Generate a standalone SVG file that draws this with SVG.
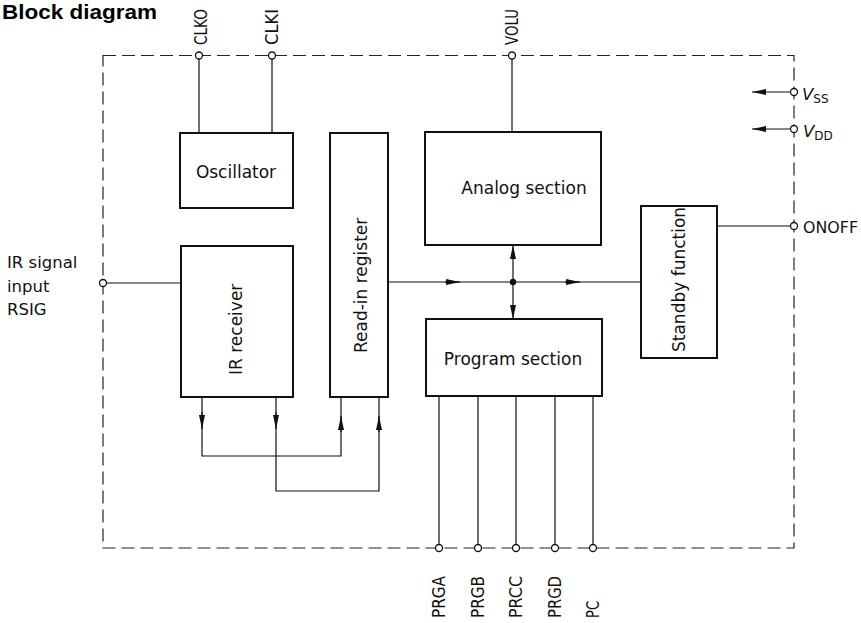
<svg xmlns="http://www.w3.org/2000/svg" width="861" height="623" viewBox="0 0 861 623">
<style>
.box{fill:#fff;stroke:#111;stroke-width:2}
.ln{fill:none;stroke:#111;stroke-width:1.2}
.frame{fill:none;stroke:#222;stroke-width:1.2;stroke-dasharray:13 6}
.pin{fill:#fff;stroke:#111;stroke-width:1.3}
.t{font-family:"DejaVu Sans",sans-serif;font-size:17px;fill:#111}
.p{font-family:"DejaVu Sans",sans-serif;font-size:16.5px;fill:#111}
.r{font-family:"DejaVu Sans",sans-serif;font-size:17px;fill:#111}
.title{font-family:"Liberation Sans",Arial,sans-serif;font-weight:bold;font-size:20px;fill:#000}
</style>
<defs>
<marker id="ah" markerUnits="userSpaceOnUse" markerWidth="15" markerHeight="7" refX="14" refY="3.5" orient="auto">
<path d="M0,0.5 L14,3.5 L0,6.5 z" fill="#111"/>
</marker>
</defs>
<rect width="861" height="623" fill="#fff"/>
<text class="title" x="2" y="19" textLength="155" lengthAdjust="spacingAndGlyphs">Block diagram</text>
<rect class="frame" x="103" y="55.5" width="691" height="492.5"/>

<g id="connectors">
<path class="ln" d="M199,55.5 V133 M272,55.5 V133 M512,55.5 V132"/>
<path class="ln" d="M106.5,283 H181"/>
<path class="ln" d="M388,282 H641"/>
<path class="ln" d="M445,282 H460" marker-end="url(#ah)"/>
<path class="ln" d="M565,282 H580" marker-end="url(#ah)"/>
<path class="ln" d="M513,282 V245" marker-end="url(#ah)"/>
<path class="ln" d="M513,282 V319" marker-end="url(#ah)"/>
<circle cx="513" cy="282" r="3.2" fill="#111"/>
<path class="ln" d="M717,226 H790.5"/>
<path class="ln" d="M202,397 V456 H341 V397"/>
<path class="ln" d="M276,397 V491 H379 V397"/>
<path class="ln" d="M202,412 V429" marker-end="url(#ah)"/>
<path class="ln" d="M276,412 V429" marker-end="url(#ah)"/>
<path class="ln" d="M341,432 V416" marker-end="url(#ah)"/>
<path class="ln" d="M379,432 V416" marker-end="url(#ah)"/>
<path class="ln" d="M790.5,92 H752" marker-end="url(#ah)"/>
<path class="ln" d="M790.5,129 H752" marker-end="url(#ah)"/>
<path class="ln" d="M439,396 V548 M478,396 V548 M516,396 V548 M555,396 V548 M593,396 V548"/>
</g>

<g id="oscillator">
<rect class="box" x="180" y="133" width="113" height="75"/>
<text class="t" x="236" y="178" text-anchor="middle">Oscillator</text>
</g>
<g id="ir-receiver">
<rect class="box" x="181" y="246" width="112" height="151"/>
<text class="t" transform="translate(242,375) rotate(-90)">IR receiver</text>
</g>
<g id="read-in-register">
<rect class="box" x="330" y="133" width="58" height="264"/>
<text class="t" transform="translate(367,353) rotate(-90)">Read-in register</text>
</g>
<g id="analog-section">
<rect class="box" x="425" y="132" width="176" height="113"/>
<text class="t" x="524" y="194" text-anchor="middle">Analog section</text>
</g>
<g id="program-section">
<rect class="box" x="426" y="319" width="176" height="77"/>
<text class="t" x="513" y="365" text-anchor="middle">Program section</text>
</g>
<g id="standby-function">
<rect class="box" x="641" y="206" width="76" height="152"/>
<text class="t" transform="translate(685,352) rotate(-90)">Standby function</text>
</g>

<g id="pin-clko">
<circle class="pin" cx="199" cy="55.5" r="3.5"/>
<text class="r" transform="translate(207,45) rotate(-90)" textLength="36" lengthAdjust="spacingAndGlyphs">CLKO</text>
</g>
<g id="pin-clki">
<circle class="pin" cx="272" cy="55.5" r="3.5"/>
<text class="r" transform="translate(278,45) rotate(-90)" textLength="36" lengthAdjust="spacingAndGlyphs">CLKI</text>
</g>
<g id="pin-volu">
<circle class="pin" cx="512" cy="55.5" r="3.5"/>
<text class="r" transform="translate(518,45) rotate(-90)" textLength="36" lengthAdjust="spacingAndGlyphs">VOLU</text>
</g>
<g id="pin-rsig">
<circle class="pin" cx="103" cy="283" r="3.5"/>
<text class="p" x="7" y="268">IR signal</text>
<text class="p" x="7" y="292">input</text>
<text class="p" x="7" y="315">RSIG</text>
</g>
<g id="pin-vss">
<circle class="pin" cx="794" cy="92" r="3.5"/>
<text class="p" x="802" y="100" font-size="18"><tspan font-style="italic">V</tspan><tspan font-size="12" dy="3">SS</tspan></text>
</g>
<g id="pin-vdd">
<circle class="pin" cx="794" cy="129" r="3.5"/>
<text class="p" x="803" y="137" font-size="18"><tspan font-style="italic">V</tspan><tspan font-size="12" dy="3">DD</tspan></text>
</g>
<g id="pin-onoff">
<circle class="pin" cx="794" cy="226" r="3.5"/>
<text class="p" x="803" y="233" textLength="55" lengthAdjust="spacingAndGlyphs">ONOFF</text>
</g>
<g id="pin-prga">
<circle class="pin" cx="439" cy="548" r="3.5"/>
<text class="r" transform="translate(445,618) rotate(-90)" textLength="42" lengthAdjust="spacingAndGlyphs">PRGA</text>
</g>
<g id="pin-prgb">
<circle class="pin" cx="478" cy="548" r="3.5"/>
<text class="r" transform="translate(484,618) rotate(-90)" textLength="42" lengthAdjust="spacingAndGlyphs">PRGB</text>
</g>
<g id="pin-prcc">
<circle class="pin" cx="516" cy="548" r="3.5"/>
<text class="r" transform="translate(522,618) rotate(-90)" textLength="42" lengthAdjust="spacingAndGlyphs">PRCC</text>
</g>
<g id="pin-prgd">
<circle class="pin" cx="555" cy="548" r="3.5"/>
<text class="r" transform="translate(561,618) rotate(-90)" textLength="42" lengthAdjust="spacingAndGlyphs">PRGD</text>
</g>
<g id="pin-pc">
<circle class="pin" cx="593" cy="548" r="3.5"/>
<text class="r" transform="translate(599,618) rotate(-90)" textLength="17" lengthAdjust="spacingAndGlyphs">PC</text>
</g>
</svg>
